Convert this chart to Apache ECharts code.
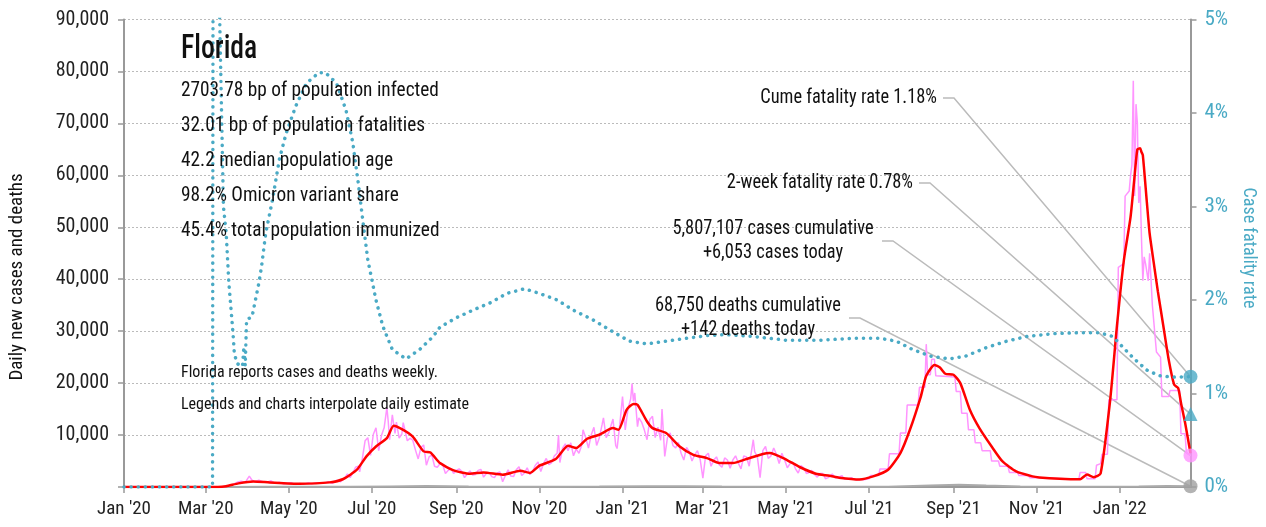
<!DOCTYPE html>
<html><head><meta charset="utf-8">
<script src="https://cdn.jsdelivr.net/npm/echarts@6/dist/echarts.min.js"></script>
<style>html,body{margin:0;padding:0;background:#fff}#c{width:1266px;height:527px}</style>
</head><body><div id="c"></div>
<script>
const FONT = "'Roboto Condensed', Roboto, sans-serif";
const TEAL = '#4aaac5';
const MONTHS = ['Jan','Feb','Mar','Apr','May','Jun','Jul','Aug','Sep','Oct','Nov','Dec'];
const firstDay = '2020-01-01';
const lastDay = '2022-02-22';

// daily reported cases (interpolated daily estimates)
const casesDaily = [
['2020-01-01',0],['2020-03-01',0],['2020-03-10',20],['2020-03-15',100],['2020-03-20',400],['2020-03-24',900],['2020-03-27',1100],['2020-03-30',900],['2020-04-02',2100],['2020-04-04',1300],['2020-04-06',1000],['2020-04-09',1300],['2020-04-12',1000],['2020-04-15',900],['2020-04-18',1200],['2020-04-21',700],['2020-04-24',900],['2020-04-27',600],['2020-04-30',700],['2020-05-03',800],['2020-05-06',500],['2020-05-09',700],['2020-05-12',550],['2020-05-15',800],['2020-05-18',600],['2020-05-21',800],['2020-05-24',700],['2020-05-27',700],['2020-05-30',1000],['2020-06-02',700],['2020-06-05',1300],['2020-06-08',1000],['2020-06-11',1700],['2020-06-13',2500],['2020-06-15',1800],['2020-06-17',2700],['2020-06-19',3800],['2020-06-21',4000],['2020-06-22',2900],['2020-06-24',5500],['2020-06-26',8900],['2020-06-28',9500],['2020-06-30',6100],['2020-07-02',10100],['2020-07-04',11400],['2020-07-06',7000],['2020-07-08',9900],['2020-07-10',11400],['2020-07-12',15300],['2020-07-13',12600],['2020-07-14',9100],['2020-07-16',13900],['2020-07-18',10300],['2020-07-19',12500],['2020-07-21',9400],['2020-07-23',10200],['2020-07-24',12400],['2020-07-25',12200],['2020-07-27',8900],['2020-07-29',9400],['2020-07-31',9000],['2020-08-02',7100],['2020-08-04',5400],['2020-08-06',7600],['2020-08-08',8100],['2020-08-10',4200],['2020-08-12',5800],['2020-08-14',6200],['2020-08-16',4000],['2020-08-18',3800],['2020-08-20',4500],['2020-08-22',4300],['2020-08-24',2600],['2020-08-26',3200],['2020-08-28',3600],['2020-08-30',2600],
['2020-09-01',3200],['2020-09-03',3500],['2020-09-05',3000],['2020-09-07',1800],['2020-09-09',2500],['2020-09-11',3100],['2020-09-13',2300],['2020-09-15',2400],['2020-09-17',3200],['2020-09-19',3400],['2020-09-21',1900],['2020-09-23',2600],['2020-09-25',2800],['2020-09-27',2000],['2020-09-29',1800],['2020-10-01',2700],['2020-10-03',2900],['2020-10-05',1000],['2020-10-07',2200],['2020-10-09',3300],['2020-10-11',2100],['2020-10-13',2000],['2020-10-15',3300],['2020-10-17',3900],['2020-10-19',2200],['2020-10-21',2700],['2020-10-23',3700],['2020-10-25',2400],['2020-10-27',3000],['2020-10-29',4200],['2020-10-31',4800],['2020-11-02',3000],['2020-11-04',4500],['2020-11-06',5500],['2020-11-08',4300],['2020-11-10',4700],['2020-11-12',6000],['2020-11-14',6500],['2020-11-15',10000],['2020-11-16',4700],['2020-11-18',7500],['2020-11-20',8300],['2020-11-22',7000],['2020-11-24',8500],['2020-11-26',6000],['2020-11-28',7300],['2020-11-30',6500],['2020-12-02',8000],['2020-12-03',11000],['2020-12-05',9500],['2020-12-07',7500],['2020-12-09',10000],['2020-12-11',11500],['2020-12-13',8000],['2020-12-15',9500],['2020-12-17',12000],['2020-12-18',13300],['2020-12-20',9500],['2020-12-22',10500],['2020-12-25',13100],['2020-12-27',8000],['2020-12-28',7400],['2020-12-30',12000],
['2021-01-01',17400],['2021-01-03',11000],['2021-01-05',15000],['2021-01-07',17000],['2021-01-08',19900],['2021-01-09',16500],['2021-01-10',18100],['2021-01-12',11600],['2021-01-13',13300],['2021-01-15',12500],['2021-01-17',11000],['2021-01-19',9100],['2021-01-21',13000],['2021-01-23',13600],['2021-01-25',9500],['2021-01-27',11500],['2021-01-29',9000],['2021-01-30',15000],['2021-02-01',5900],['2021-02-03',9500],['2021-02-05',10400],['2021-02-07',8000],['2021-02-09',7500],['2021-02-11',8600],['2021-02-13',6500],['2021-02-15',5200],['2021-02-17',7600],['2021-02-19',6800],['2021-02-21',5000],['2021-02-23',6200],['2021-02-25',7000],['2021-02-27',5300],['2021-03-01',1700],['2021-03-03',6000],['2021-03-05',6500],['2021-03-07',4000],['2021-03-09',5200],['2021-03-11',5800],['2021-03-13',4300],['2021-03-15',3800],['2021-03-17',5600],['2021-03-19',5200],['2021-03-21',3600],['2021-03-23',5200],['2021-03-25',6000],['2021-03-27',4600],['2021-03-29',3500],['2021-03-31',6000],['2021-04-02',5800],['2021-04-04',4000],['2021-04-07',9100],['2021-04-08',6800],['2021-04-10',5800],['2021-04-12',1800],['2021-04-14',7000],['2021-04-16',7800],['2021-04-18',5500],['2021-04-20',6000],['2021-04-22',7500],['2021-04-24',6300],['2021-04-26',4500],['2021-04-28',6500],['2021-04-30',5200],['2021-05-02',3700],['2021-05-04',4500],['2021-05-06',4800],['2021-05-08',3500],['2021-05-10',2700],['2021-05-12',4100],['2021-05-14',3700],['2021-05-16',2600],['2021-05-18',2800],['2021-05-20',3200],['2021-05-22',2400],['2021-05-24',1900],['2021-05-26',2600],['2021-05-28',2600],['2021-05-30',1600],['2021-06-01',1800],['2021-06-04',2500],['2021-06-06',1800],['2021-06-08',1800],['2021-06-11',2200],['2021-06-13',1500],['2021-06-15',1500],['2021-06-18',1800],['2021-06-20',1500],['2021-06-22',1400],['2021-06-25',1500],['2021-06-27',1400],['2021-06-29',1500],
['2021-07-01',1600],['2021-07-02',2230],['2021-07-08',2230],['2021-07-09',3460],['2021-07-15',3460],['2021-07-16',6400],['2021-07-23',6400],['2021-07-24',10400],['2021-07-28',10400],['2021-07-29',15800],['2021-08-06',15800],['2021-08-07',19200],['2021-08-11',19200],['2021-08-12',27500],['2021-08-13',21600],['2021-08-15',21600],['2021-08-16',24600],['2021-08-18',24600],['2021-08-19',21400],['2021-09-02',21200],['2021-09-03',18400],['2021-09-06',18400],['2021-09-07',14200],['2021-09-11',14200],['2021-09-12',11000],['2021-09-16',11000],['2021-09-17',8500],['2021-09-21',8500],['2021-09-22',7000],['2021-09-28',7000],['2021-09-29',5000],['2021-10-04',5000],['2021-10-05',4000],['2021-10-11',4000],['2021-10-12',2800],['2021-10-18',2800],['2021-10-19',2200],['2021-10-26',2200],['2021-10-27',1800],['2021-11-02',1800],['2021-11-03',1500],['2021-12-02',1500],['2021-12-03',2800],['2021-12-07',2800],['2021-12-08',1600],['2021-12-14',1600],['2021-12-15',4200],['2021-12-18',4500],['2021-12-19',6300],['2021-12-23',6300],['2021-12-24',16800],['2021-12-30',16800],['2021-12-31',42300],['2022-01-04',43000],['2022-01-05',56000],['2022-01-08',57000],['2022-01-09',60000],['2022-01-10',62000],['2022-01-11',78200],['2022-01-12',56000],['2022-01-13',73700],['2022-01-14',70000],['2022-01-15',54700],['2022-01-16',57900],['2022-01-17',48000],['2022-01-18',39700],['2022-01-19',44300],['2022-01-20',43000],['2022-01-22',39700],['2022-01-23',45000],['2022-01-25',35000],['2022-01-28',26000],['2022-01-31',25000],['2022-02-01',17400],['2022-02-06',17400],['2022-02-07',18600],['2022-02-14',18600],['2022-02-15',10250],['2022-02-18',10250],['2022-02-19',6600],['2022-02-22',6053]
];

// 7-day average of new cases
const casesAvg = [
['2020-01-01',0],['2020-03-10',0],['2020-03-16',150],['2020-03-25',700],['2020-04-05',1080],['2020-04-17',890],['2020-05-09',630],['2020-05-31',890],['2020-06-10',1540],['2020-06-20',3330],['2020-06-27',5900],['2020-07-04',7800],['2020-07-12',9400],['2020-07-17',11800],['2020-07-24',11000],['2020-07-31',9700],['2020-08-08',6850],['2020-08-13',6650],['2020-08-20',4600],['2020-08-30',3200],['2020-09-11',2550],['2020-09-21',2800],['2020-10-05',2370],['2020-10-18',3130],['2020-10-25',2700],['2020-11-01',4100],['2020-11-13',5380],['2020-11-22',7950],['2020-11-28',7500],['2020-12-06',9290],['2020-12-15',10060],['2020-12-25',11340],['2020-12-29',11000],['2021-01-04',14870],['2021-01-09',16000],['2021-01-12',15830],['2021-01-19',12600],['2021-01-23',11340],['2021-02-02',10380],['2021-02-12',7800],['2021-02-22',6200],['2021-03-04',5570],['2021-03-13',4600],['2021-03-23',4600],['2021-04-02',5380],['2021-04-14',6350],['2021-04-19',6540],['2021-04-29',5570],['2021-05-11',3850],['2021-05-23',2560],['2021-06-02',2170],['2021-06-09',1800],['2021-06-24',1450],['2021-07-04',2040],['2021-07-15',3330],['2021-07-24',6540],['2021-07-31',11020],['2021-08-08',17420],['2021-08-12',21400],['2021-08-18',23500],['2021-08-22',23000],['2021-08-26',21800],['2021-09-01',21600],['2021-09-06',20000],['2021-09-13',14870],['2021-09-20',11340],['2021-09-29',7800],['2021-10-07',4920],['2021-10-17',3000],['2021-10-29',2040],['2021-11-03',1850],['2021-11-18',1600],['2021-12-03',1500],['2021-12-08',2400],['2021-12-13',1900],['2021-12-18',2600],['2021-12-25',16700],['2021-12-30',31000],['2022-01-04',43500],['2022-01-09',52000],['2022-01-12',60000],['2022-01-14',65000],['2022-01-16',65200],['2022-01-17',64500],['2022-01-18',63900],['2022-01-21',54700],['2022-01-23',48800],['2022-01-26',43200],['2022-01-29',37700],['2022-02-02',31100],['2022-02-06',24500],['2022-02-10',19700],['2022-02-13',19000],['2022-02-15',16200],['2022-02-18',12400],['2022-02-22',6500]
];

// 7-day average of new deaths
const deathsAvg = [
['2020-01-01',0],['2020-03-15',0],['2020-04-15',50],['2020-05-15',40],['2020-06-15',35],['2020-07-15',120],['2020-08-10',180],['2020-09-10',100],['2020-10-15',70],['2020-11-15',60],['2020-12-15',95],['2021-01-20',160],['2021-02-15',140],['2021-03-15',80],['2021-04-15',60],['2021-05-15',50],['2021-06-15',40],['2021-07-15',50],['2021-08-15',300],['2021-09-05',450],['2021-09-25',280],['2021-10-20',100],['2021-11-15',40],['2021-12-15',30],['2022-01-15',100],['2022-02-05',180],['2022-02-22',142]
];

// case fatality rate, %
const cfr = [
['2020-01-01',0],['2020-03-06',0],['2020-03-07',15],['2020-03-10',15],['2020-03-11',5.2],['2020-03-14',3.0],['2020-03-16',2.72],['2020-03-18',2.18],['2020-03-21',1.65],['2020-03-22',1.43],['2020-03-24',1.32],['2020-03-28',1.29],['2020-03-29',1.5],['2020-03-30',1.3],['2020-03-31',1.79],['2020-04-04',1.82],['2020-04-09',2.18],['2020-04-11',2.36],['2020-04-14',2.71],['2020-04-19',3.07],['2020-04-24',3.50],['2020-04-29',3.78],['2020-05-06',4.07],['2020-05-14',4.32],['2020-05-23',4.43],['2020-05-28',4.43],['2020-06-05',4.32],['2020-06-12',4.03],['2020-06-17',3.68],['2020-06-21',3.25],['2020-06-24',2.89],['2020-06-28',2.43],['2020-07-04',2.00],['2020-07-09',1.72],['2020-07-16',1.47],['2020-07-26',1.37],['2020-08-05',1.47],['2020-08-15',1.61],['2020-08-20',1.71],['2020-09-01',1.81],['2020-09-13',1.89],['2020-09-26',1.97],['2020-10-08',2.07],['2020-10-21',2.12],['2020-11-01',2.07],['2020-11-14',2.00],['2020-11-26',1.89],['2020-12-10',1.79],['2020-12-25',1.66],['2021-01-06',1.56],['2021-01-19',1.53],['2021-02-02',1.56],['2021-02-17',1.59],['2021-03-04',1.62],['2021-03-18',1.63],['2021-04-07',1.61],['2021-05-01',1.57],['2021-05-26',1.57],['2021-06-19',1.59],['2021-07-09',1.59],['2021-07-21',1.56],['2021-08-02',1.47],['2021-08-15',1.40],['2021-08-29',1.37],['2021-09-10',1.40],['2021-09-25',1.49],['2021-10-10',1.56],['2021-10-25',1.61],['2021-11-13',1.64],['2021-12-03',1.65],['2021-12-17',1.65],['2021-12-27',1.61],['2022-01-03',1.50],['2022-01-11',1.38],['2022-01-21',1.25],['2022-01-30',1.19],['2022-02-09',1.175],['2022-02-22',1.18]
];

const cumeCfr = 1.18, twoWeekCfr = 0.78, casesToday = 6053, deathsToday = 142;
const statLines = ['2703.78 bp of population infected','32.01 bp of population fatalities','42.2 median population age','98.2% Omicron variant share','45.4% total population immunized'];
const noteLines = ['Florida reports cases and deaths weekly.','Legends and charts interpolate daily estimate'];
const annCume = 'Cume fatality rate 1.18%';
const ann2wk = '2-week fatality rate 0.78%';
const annCases = ['5,807,107 cases cumulative','+6,053 cases today'];
const annDeaths = ['68,750 deaths cumulative','+142 deaths today'];

const categories = [];
for (let t = Date.parse(firstDay); t <= Date.parse(lastDay); t += 86400000) categories.push(new Date(t).toISOString().slice(0,10));
const isTick = (i, v) => v.slice(8) === '01' && (+v.slice(5,7)) % 2 === 1;

const chart = echarts.init(document.getElementById('c'), null, {renderer: 'canvas'});
const txt = (x, y, text, size, align, sx, extra) => Object.assign({type:'text', x, y, z: 20, scaleX: sx || 1,
  style: Object.assign({text, fontSize: size, fontFamily: FONT, fill: '#111', align: align || 'left', verticalAlign: 'middle'}, (extra && extra.style) || {})},
  extra ? {rotation: extra.rotation || 0} : {});

const graphics = [
  txt(181, 50, 'Florida', 33, 'left', 0.84, {style: {fontWeight: 500}}),
  ...statLines.map((s, i) => txt(181, 91 + i * 35, s, 21, 'left', 0.92)),
  txt(181, 373, noteLines[0], 16),
  txt(181, 405, noteLines[1], 16),
  txt(937, 98, annCume, 20, 'right', 0.92),
  txt(913, 183, ann2wk, 20, 'right', 0.92),
  txt(773, 229, annCases[0], 20, 'center', 0.92),
  txt(773, 253, annCases[1], 20, 'center', 0.92),
  txt(748, 306, annDeaths[0], 20, 'center', 0.92),
  txt(748, 330, annDeaths[1], 20, 'center', 0.92),
  txt(17, 277, 'Daily new cases and deaths', 19, 'center', 1, {rotation: Math.PI / 2}),
  txt(1249, 248, 'Case fatality rate', 19, 'center', 0.95, {rotation: -Math.PI / 2, style: {fill: TEAL}})
];

chart.setOption({
  animation: false,
  grid: {left: 124, right: 75.5, top: 19.5, bottom: 40, containLabel: false},
  xAxis: {
    type: 'category', data: categories, boundaryGap: false,
    axisLine: {show: true, lineStyle: {color: '#999', width: 2}},
    axisTick: {show: true, interval: isTick, length: 6, lineStyle: {color: '#999', width: 1.5}},
    axisLabel: {interval: isTick, margin: 13, fontSize: 19, fontFamily: FONT, color: '#222',
      formatter: v => MONTHS[+v.slice(5,7) - 1] + " '" + v.slice(2,4)},
    splitLine: {show: false}
  },
  yAxis: [
    {type: 'value', min: 0, max: 90000, interval: 10000, position: 'left',
     axisLine: {show: true, lineStyle: {color: '#999', width: 2}},
     axisTick: {show: true, length: 6, lineStyle: {color: '#999', width: 1.5}},
     axisLabel: {margin: 15, fontSize: 20, fontFamily: FONT, color: '#222', formatter: v => v === 0 ? '' : v.toLocaleString('en-US')},
     splitLine: {show: true, lineStyle: {color: '#bbb', width: 1, type: [2, 2]}}},
    {type: 'value', min: 0, max: 5, interval: 1, position: 'right',
     axisLine: {show: true, lineStyle: {color: '#999', width: 2}},
     axisTick: {show: true, length: 6, lineStyle: {color: '#999', width: 1.5}},
     axisLabel: {margin: 14, fontSize: 21, fontFamily: FONT, color: TEAL, formatter: '{value}%'},
     splitLine: {show: false}}
  ],
  series: [
    {name: 'deaths', type: 'line', data: deathsAvg, symbol: 'none', lineStyle: {color: '#aaa', width: 2}, z: 2},
    {name: 'daily cases', type: 'line', data: casesDaily, symbol: 'none', lineStyle: {color: '#ff94ff', width: 1.5}, z: 3},
    {name: 'cases 7d', type: 'line', data: casesAvg, symbol: 'none', smooth: 0.2, lineStyle: {color: '#ff0000', width: 2.5}, z: 4},
    {name: 'cfr', type: 'line', yAxisIndex: 1, data: cfr, symbol: 'none', lineStyle: {color: TEAL, width: 3.5, type: [0.1, 7], cap: 'round'}, z: 5},
    {name: 'end cases', type: 'scatter', data: [[lastDay, casesToday]], symbol: 'circle', symbolSize: 14, itemStyle: {color: '#ff94ff'}, clip: false, z: 6},
    {name: 'end deaths', type: 'scatter', data: [[lastDay, deathsToday]], symbol: 'circle', symbolSize: 14, itemStyle: {color: '#a0a0a0'}, clip: false, z: 6},
    {name: 'end cfr', type: 'scatter', yAxisIndex: 1, data: [[lastDay, cumeCfr]], symbol: 'circle', symbolSize: 14, itemStyle: {color: TEAL}, clip: false, z: 6},
    {name: 'end 2wk', type: 'scatter', yAxisIndex: 1, data: [[lastDay, twoWeekCfr]], symbol: 'triangle', symbolSize: 14, itemStyle: {color: TEAL}, clip: false, z: 6}
  ],
  graphic: graphics
});

// leader lines from annotation text to the end-point markers
const endPt = (yi, v) => chart.convertToPixel({xAxisIndex: 0, yAxisIndex: yi}, [lastDay, v]);
const leader = (x0, y0, p) => ({type: 'polyline', z: 1, shape: {points: [[x0, y0], [x0 + 11, y0], p]}, style: {stroke: '#bbb', lineWidth: 1.5, fill: null}});
chart.setOption({graphic: graphics.concat([
  leader(943, 98, endPt(1, cumeCfr)),
  leader(919, 183, endPt(1, twoWeekCfr)),
  leader(882, 241, endPt(0, casesToday)),
  leader(849, 318, endPt(0, deathsToday))
])});
</script></body></html>
